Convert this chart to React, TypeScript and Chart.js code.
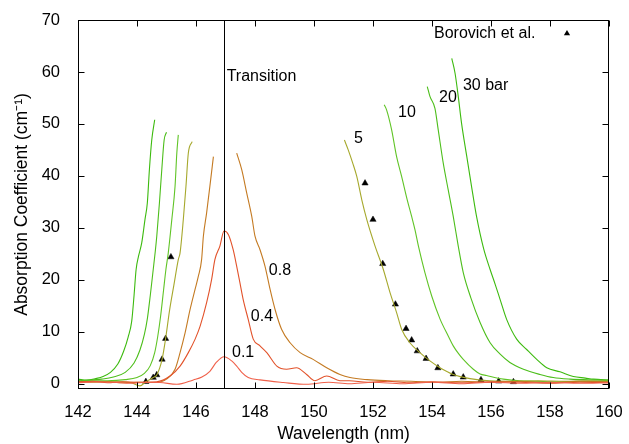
import React, { useEffect, useRef } from "react";
import { Chart, registerables } from "chart.js";

Chart.register(...registerables);

// ---------- data ----------
const xTicks = [142, 144, 146, 148, 150, 152, 154, 156, 158, 160];
const yTicks = [0, 10, 20, 30, 40, 50, 60, 70];
const transitionWl = 146.95;

// 30 bar (gap = null between blue and red wings)
const bar30Wl = [142.0, 142.3, 142.6, 142.85, 143.1, 143.35, 143.55, 143.7, 143.82, 143.9, 143.97, 144.05, 144.16, 144.27, 144.35, 144.42, 144.5, 144.6, 147.0,
  154.67, 154.78, 154.89, 155.0, 155.18, 155.34, 155.51, 155.75, 155.97, 156.15, 156.31, 156.53, 156.87, 157.21, 157.55, 157.89, 158.34, 158.79, 159.2, 159.47, 160.0];
const bar30Abs = [0.9, 0.7, 1.0, 1.4, 2.2, 3.8, 6.3, 9.0, 12.0, 17.0, 22.0, 24.5, 27.1, 31.6, 34.8, 41.2, 46.9, 50.8, null,
  62.6, 59.8, 55.3, 50.2, 43.7, 38.0, 32.2, 26.0, 22.0, 19.0, 16.2, 12.4, 8.6, 6.6, 4.7, 3.1, 2.3, 1.4, 1.1, 0.9, 0.7];

const bar20Wl = [142.0, 142.4, 142.8, 143.2, 143.6, 143.9, 144.1, 144.25, 144.35, 144.45, 144.55, 144.62, 144.67, 144.76, 144.84, 144.92, 145.0, 147.0,
  153.84, 153.93, 154.1, 154.21, 154.38, 154.55, 154.72, 154.89, 155.06, 155.32, 155.63, 155.97, 156.31, 156.64, 157.1, 157.66, 158.11, 158.68, 159.47, 160.0];
const bar20Abs = [0.6, 0.7, 0.9, 1.3, 2.2, 4.0, 6.5, 9.5, 12.5, 17.0, 22.0, 25.5, 28.4, 34.8, 41.2, 46.9, 48.4, null,
  57.2, 55.3, 53.0, 48.9, 42.5, 37.3, 32.2, 26.5, 21.4, 16.5, 11.8, 7.9, 5.7, 4.1, 2.8, 1.8, 1.2, 0.9, 0.75, 0.7];

const bar10Wl = [142.0, 142.5, 143.0, 143.6, 144.0, 144.25, 144.45, 144.6, 144.7, 144.8, 144.9, 144.98, 145.06, 145.18, 145.29, 145.35, 145.4, 147.0,
  152.38, 152.46, 152.63, 152.8, 152.97, 153.16, 153.31, 153.42, 153.54, 153.76, 153.99, 154.27, 154.55, 154.72, 154.9, 155.06, 155.4, 155.63, 155.85, 156.42, 156.98, 157.5, 158.2, 159.0, 160.0];
const bar10Abs = [0.5, 0.6, 0.6, 0.8, 1.2, 2.0, 3.5, 6.0, 9.0, 13.0, 18.0, 22.0, 25.2, 31.6, 38.0, 44.4, 47.9, null,
  53.7, 52.7, 48.9, 43.7, 39.9, 35.4, 32.2, 29.7, 26.5, 21.4, 16.9, 12.5, 9.2, 7.3, 5.8, 4.7, 2.8, 1.9, 1.6, 0.9, 0.56, 0.5, 0.4, 0.5, 0.5];

const bar5Wl = [142.0, 142.6, 143.2, 143.8, 144.1, 144.3, 144.55, 144.67, 144.85, 144.97, 145.1, 145.25, 145.4, 145.46, 145.57, 145.66, 145.74, 145.87, 147.0,
  151.03, 151.16, 151.31, 151.45, 151.62, 151.79, 152.07, 152.35, 152.58, 152.8, 152.97, 153.25, 153.59, 153.93, 154.27, 154.72, 155.29, 155.97, 156.8, 157.6, 158.5, 159.3, 160.0];
const bar5Abs = [0.4, 0.5, 0.4, 0.2, -0.4, 0.4, 1.2, 1.7, 4.7, 8.7, 14.0, 19.0, 23.9, 25.2, 31.6, 38.0, 44.4, 46.6, null,
  46.9, 45.0, 42.5, 39.9, 35.4, 31.6, 26.5, 22.0, 17.5, 13.7, 10.5, 7.9, 6.0, 4.4, 3.1, 1.8, 1.0, 0.56, 0.5, 0.6, 0.5, 0.6, 0.5];

const bar08Wl = [142.0, 142.5, 143.0, 143.5, 144.0, 144.67, 145.0, 145.29, 145.46, 145.63, 145.8, 145.97, 146.08, 146.19, 146.25, 146.36, 146.47, 146.59, 147.0,
  147.38, 147.55, 147.72, 147.89, 148.0, 148.17, 148.34, 148.51, 148.68, 148.9, 149.19, 149.53, 149.97, 150.43, 150.88, 151.22, 151.8, 152.5, 153.3, 154.2, 155.0, 156.0, 157.0, 158.0, 159.0, 160.0];
const bar08Abs = [0.5, 0.3, 0.4, 0.2, 0.3, 0.25, 0.9, 2.8, 6.0, 9.8, 14.3, 18.2, 20.7, 23.9, 28.4, 32.9, 38.0, 43.7, null,
  44.4, 41.2, 36.7, 32.2, 28.4, 25.8, 22.6, 18.2, 14.3, 10.5, 7.9, 6.0, 4.7, 3.1, 1.8, 1.2, 0.8, 0.6, 0.5, 0.3, 0.5, 0.3, 0.5, 0.2, 0.5, 0.4];

const bar04Wl = [142.0, 142.5, 143.0, 143.5, 144.0, 144.67, 145.12, 145.46, 145.74, 145.97, 146.14, 146.36, 146.53, 146.64, 146.81, 146.95, 147.1, 147.26, 147.38, 147.49, 147.6, 147.77, 147.94, 148.17, 148.4, 148.74, 149.07, 149.41, 149.75, 150.03, 150.43, 150.88, 151.2, 151.8, 152.5, 153.2, 154.0, 155.0, 156.0, 157.0, 158.0, 159.0, 160.0];
const bar04Abs = [0.3, 0.5, 0.2, 0.4, 0.3, 0.4, 1.5, 3.4, 6.0, 8.6, 11.1, 15.6, 20.1, 23.9, 26.5, 29.4, 28.7, 25.8, 22.6, 19.4, 16.2, 12.4, 8.6, 7.3, 6.0, 3.4, 2.8, 3.1, 1.8, 0.6, 1.5, 0.6, 0.6, 0.3, 0.5, 0.2, 0.4, 0.2, 0.4, 0.3, 0.1, 0.3, 0.2];

const bar01Wl = [142.0, 142.6, 143.2, 143.8, 144.3, 144.78, 145.35, 145.91, 146.2, 146.47, 146.7, 146.95, 147.21, 147.38, 147.55, 147.77, 148.17, 148.96, 149.75, 150.5, 151.2, 152.0, 153.0, 154.0, 155.0, 156.0, 157.0, 158.0, 159.0, 160.0];
const bar01Abs = [0.2, 0.4, 0.3, 0.1, 0.3, 0.25, -0.1, 0.75, 1.3, 2.4, 4.2, 5.2, 4.4, 3.4, 2.2, 1.2, 0.75, 0.25, -0.1, 0.3, 0.0, 0.3, 0.0, 0.3, 0.0, 0.3, 0.1, 0.3, 0.1, 0.2];

const borovichWl = [144.3, 144.55, 144.67, 144.85, 144.97, 145.15, 151.73, 152.0, 152.33, 152.76, 153.12, 153.31, 153.5, 153.8, 154.2, 154.72, 155.06, 155.66, 156.26, 156.76];
const borovichAbs = [0.4, 1.2, 1.7, 4.7, 8.7, 24.4, 38.6, 31.6, 23.1, 15.3, 10.6, 8.4, 6.3, 4.85, 3.05, 1.85, 1.27, 0.75, 0.5, 0.37];

// curve labels: [text, wavelength, absorption]
const curveLabels: [string, number, number][] = [
  ["Transition", 147.04, 59.2],
  ["0.8", 148.47, 21.7],
  ["0.4", 147.86, 13.0],
  ["0.1", 147.22, 6.1],
  ["5", 151.36, 47.1],
  ["10", 152.85, 52.2],
  ["20", 154.24, 55.0],
  ["30 bar", 155.05, 57.3],
];
const legendLabel = "Borovich et al.";

const FONT = '"Liberation Sans", Arial, Helvetica, sans-serif';

function pts(xs: number[], ys: (number | null)[]) {
  return xs.map((x, i) => ({ x, y: ys[i] }));
}

const framePlugin = {
  id: "frameAndLabels",
  afterDraw(chart: any) {
    const { ctx, chartArea: a, scales } = chart;
    const xs = scales.x;
    const ys = scales.y;
    ctx.save();
    ctx.strokeStyle = "#000";
    ctx.lineWidth = 1;
    // transition line
    const tx = Math.round(xs.getPixelForValue(transitionWl)) + 0.5;
    ctx.beginPath();
    ctx.moveTo(tx, a.top);
    ctx.lineTo(tx, a.bottom);
    ctx.stroke();
    // frame
    const L = a.left + 0.5, R = a.right - 0.5, T = a.top + 0.5, B = a.bottom - 0.5;
    ctx.strokeRect(L, T, R - L, B - T);
    // inward ticks
    const tl = 6;
    ctx.beginPath();
    for (const v of xTicks) {
      const px = Math.round(xs.getPixelForValue(v)) + 0.5;
      ctx.moveTo(px, B); ctx.lineTo(px, B - tl);
      ctx.moveTo(px, T); ctx.lineTo(px, T + tl);
    }
    for (const v of yTicks) {
      const py = Math.round(ys.getPixelForValue(v)) + 0.5;
      ctx.moveTo(L, py); ctx.lineTo(L + tl, py);
      ctx.moveTo(R, py); ctx.lineTo(R - tl, py);
    }
    ctx.stroke();
    // labels
    ctx.fillStyle = "#000";
    ctx.font = "16px " + FONT;
    ctx.textBaseline = "middle";
    ctx.textAlign = "left";
    for (const [t, lx, ly] of curveLabels) {
      ctx.fillText(t, xs.getPixelForValue(lx), ys.getPixelForValue(ly));
    }
    // legend
    const ly = a.top + 13.5;
    ctx.fillText(legendLabel, a.right - 175, ly);
    const cx = a.right - 42, r = 3.6;
    ctx.beginPath();
    ctx.moveTo(cx, ly - r);
    ctx.lineTo(cx + r * Math.sin((2 * Math.PI) / 3), ly - r * Math.cos((2 * Math.PI) / 3));
    ctx.lineTo(cx + r * Math.sin((4 * Math.PI) / 3), ly - r * Math.cos((4 * Math.PI) / 3));
    ctx.closePath();
    ctx.fill();
    ctx.restore();
  },
};

export default function App() {
  const ref = useRef<HTMLCanvasElement | null>(null);
  useEffect(() => {
    if (!ref.current) return;
    const line = (data: any, color: string) => ({
      data,
      borderColor: color,
      backgroundColor: color,
      borderWidth: 1.1,
      pointRadius: 0,
      cubicInterpolationMode: "monotone",
      spanGaps: false,
      fill: false,
    });
    const chart = new Chart(ref.current, {
      type: "line",
      data: {
        datasets: [
          line(pts(bar01Wl, bar01Abs), "#f0604a"),
          line(pts(bar04Wl, bar04Abs), "#e2522a"),
          line(pts(bar08Wl, bar08Abs), "#c47a22"),
          line(pts(bar5Wl, bar5Abs), "#a6a82c"),
          line(pts(bar10Wl, bar10Abs), "#60c426"),
          line(pts(bar20Wl, bar20Abs), "#4cbe1a"),
          line(pts(bar30Wl, bar30Abs), "#3cba0e"),
          {
            data: pts(borovichWl, borovichAbs),
            showLine: false,
            pointStyle: "triangle",
            pointRadius: 3.6,
            pointBorderWidth: 0.5,
            borderColor: "#000",
            backgroundColor: "#000",
          } as any,
        ],
      },
      options: {
        responsive: false,
        animation: false,
        layout: { padding: { top: 20, right: 20, left: 0, bottom: 0 } },
        plugins: { legend: { display: false }, tooltip: { enabled: false } },
        scales: {
          x: {
            type: "linear",
            min: 142,
            max: 160,
            afterBuildTicks: (s: any) => { s.ticks = xTicks.map((v) => ({ value: v })); },
            afterFit: (s: any) => { s.height = 55; },
            grid: { display: false },
            border: { display: false },
            ticks: { color: "#000", padding: 6, font: { family: FONT, size: 16.5 }, maxRotation: 0, autoSkip: false },
            title: { display: true, text: "Wavelength (nm)", color: "#000", font: { family: FONT, size: 17.5 }, padding: { top: 0, bottom: -1 } },
          },
          y: {
            type: "linear",
            min: -1,
            max: 70,
            afterBuildTicks: (s: any) => { s.ticks = yTicks.map((v) => ({ value: v })); },
            afterFit: (s: any) => { s.width = 78; },
            grid: { display: false },
            border: { display: false },
            ticks: { color: "#000", padding: 10, font: { family: FONT, size: 16.5 }, autoSkip: false },
            title: { display: true, text: "Absorption Coefficient (cm\u207B\u00B9)", color: "#000", font: { family: FONT, size: 17.5 }, padding: { top: 12, bottom: 0 } },
          },
        },
      },
      plugins: [framePlugin],
    });
    return () => chart.destroy();
  }, []);
  return (
    <div style={{ position: "absolute", left: 0, top: 0, width: 629, height: 444, background: "#fff" }}>
      <canvas ref={ref} width={629} height={444} style={{ display: "block" }} />
    </div>
  );
}
